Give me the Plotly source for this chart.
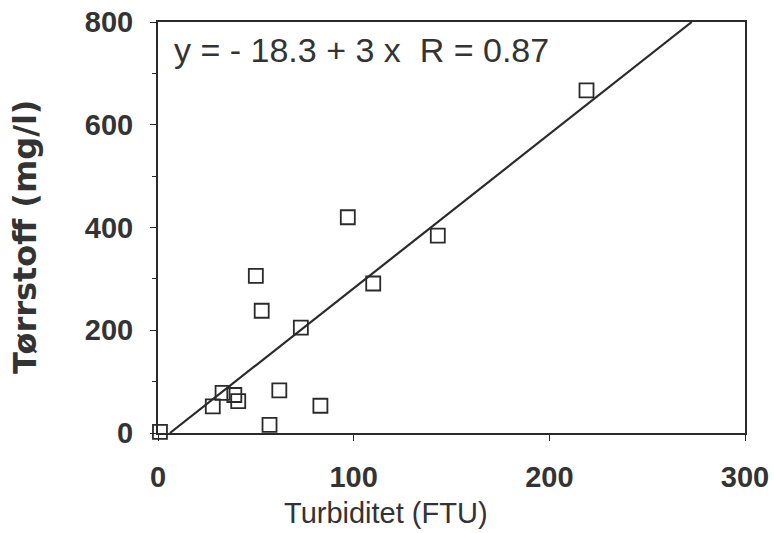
import plotly.graph_objects as go

# Data
turbiditet = [1, 28, 33, 39, 41, 50, 53, 57, 62, 73, 83, 97, 110, 143, 219]
torrstoff = [2, 52, 78, 74, 62, 306, 238, 16, 83, 205, 53, 420, 291, 384, 667]
intercept = -18.3
slope = 3.0
x_ticks = [0, 100, 200, 300]
y_ticks = [0, 200, 400, 600, 800]

x0 = -intercept / slope
x1 = (800 - intercept) / slope
line_x = [x0, x1]
line_y = [intercept + slope * v for v in line_x]

ink = "#2a2a2a"
fig = go.Figure()
fig.add_trace(go.Scatter(x=line_x, y=line_y, mode="lines",
                         line=dict(color=ink, width=2.2), showlegend=False))
fig.add_trace(go.Scatter(x=turbiditet, y=torrstoff, mode="markers",
                         marker=dict(symbol="square-open", size=14,
                                     color=ink, line=dict(width=1.8, color=ink)),
                         showlegend=False, cliponaxis=False))

tickfont = dict(family="Liberation Sans", size=29, color="#333333", weight="bold")
fig.update_xaxes(range=[0, 300], tickvals=x_ticks, ticktext=[str(v) for v in x_ticks],
                 showgrid=False, zeroline=False, showline=True, linecolor=ink,
                 linewidth=2, mirror=True, ticks="outside", ticklen=6, tickwidth=1,
                 tickcolor=ink, tickfont=tickfont, ticklabelstandoff=11,
                 automargin=False)
fig.update_yaxes(range=[0, 800], tickvals=y_ticks, ticktext=[str(v) for v in y_ticks],
                 showgrid=False, zeroline=False, showline=True, linecolor=ink,
                 linewidth=2, mirror=True, ticks="outside", ticklen=6, tickwidth=1,
                 tickcolor=ink, tickfont=tickfont, ticklabelstandoff=11,
                 automargin=False,
                 minor=dict(dtick=100, ticks="outside", ticklen=4, tickcolor=ink))

fig.add_annotation(text="Turbiditet (FTU)", xref="paper", yref="paper",
                   x=0.388, y=-0.195, xanchor="center", yanchor="middle",
                   showarrow=False,
                   font=dict(family="Liberation Sans", size=29, color="#333333"))
fig.add_annotation(text="Tørrstoff (mg/l)", xref="paper", yref="paper",
                   x=-0.2266, y=0.477, xanchor="center", yanchor="middle",
                   textangle=-90, showarrow=False,
                   font=dict(family="DejaVu Sans", size=32, color="#333333", weight="bold"))
fig.add_annotation(text="y = - 18.3 + 3 x  R = 0.87", xref="paper", yref="paper",
                   x=0.024, y=0.932, xanchor="left", yanchor="middle",
                   showarrow=False,
                   font=dict(family="Liberation Sans", size=34, color="#333333"))

fig.update_layout(width=774, height=533, margin=dict(l=158, r=29, t=22, b=100),
                  plot_bgcolor="white", paper_bgcolor="white")
fig.write_html("out.html")
